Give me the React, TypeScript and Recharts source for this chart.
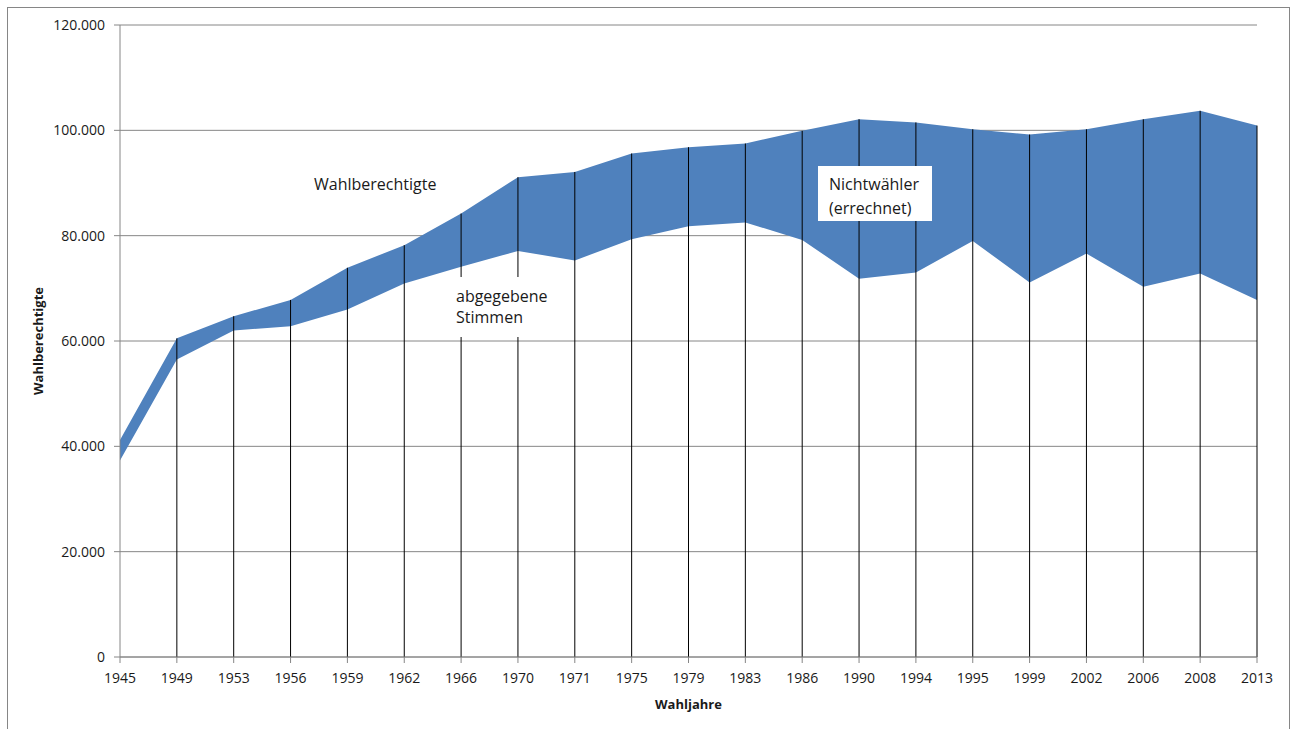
import React from "react";
import {
  ComposedChart,
  Area,
  XAxis,
  YAxis,
  CartesianGrid,
  ReferenceLine,
  Label,
} from "recharts";

const years = [
  "1945", "1949", "1953", "1956", "1959", "1962", "1966", "1970", "1971", "1975", "1979",
  "1983", "1986", "1990", "1994", "1995", "1999", "2002", "2006", "2008", "2013",
];

// Wahlberechtigte (upper edge of the band)
const wahlberechtigte = [
  41200, 60500, 64700, 67800, 73900, 78200, 84200, 91100, 92100, 95600, 96800,
  97500, 99900, 102100, 101500, 100200, 99200, 100200, 102100, 103700, 100900,
];

// abgegebene Stimmen (lower edge of the band)
const abgegebeneStimmen = [
  37300, 56500, 62000, 62800, 66000, 70900, 74100, 77100, 75300, 79300, 81800,
  82500, 79200, 71800, 73000, 79000, 71100, 76600, 70300, 72800, 67800,
];

const yTicks = [0, 20000, 40000, 60000, 80000, 100000, 120000];

const data = years.map((year, i) => ({
  year,
  band: [abgegebeneStimmen[i], wahlberechtigte[i]],
}));

const fmt = (v: number) =>
  v === 0 ? "0" : `${Math.floor(v / 1000)}.${String(v % 1000).padStart(3, "0")}`;

const font = "'Open Sans', 'Noto Sans', sans-serif";
const gray = "#868686";
const ink = "#1a1a1a";

export default function App() {
  return (
    <div
      style={{
        position: "absolute",
        left: 7,
        top: 7,
        width: 1281,
        height: 730,
        border: `1px solid ${gray}`,
        background: "#fff",
        fontFamily: font,
      }}
    >
      <ComposedChart
        width={1281}
        height={729}
        data={data}
        margin={{ top: 17, right: 32, left: 32, bottom: 40 }}
      >
        <CartesianGrid vertical={false} stroke={gray} strokeWidth={1} />
        <XAxis
          dataKey="year"
          padding={{ left: 0, right: 0 }}
          stroke={gray}
          tickSize={6}
          tickMargin={10}
          height={40}
          interval={0}
          tick={{ fontSize: 14, fill: ink, fontFamily: font }}
        >
          <Label
            value="Wahljahre"
            position="insideBottom"
            offset={-12}
            style={{ fontSize: 13, fontWeight: "bold", fill: ink, fontFamily: font }}
          />
        </XAxis>
        <YAxis
          domain={[0, 120000]}
          ticks={yTicks}
          width={80}
          stroke={gray}
          tickSize={6}
          tickMargin={9}
          tickFormatter={fmt}
          tick={{ fontSize: 14, fill: ink, fontFamily: font }}
        >
          <Label
            value="Wahlberechtigte"
            angle={-90}
            position="insideLeft"
            offset={-2}
            style={{
              fontSize: 13,
              fontWeight: "bold",
              fill: ink,
              fontFamily: font,
              textAnchor: "middle",
            }}
          />
        </YAxis>
        <Area
          type="linear"
          dataKey="band"
          stroke="none"
          fill="#4F81BD"
          fillOpacity={1}
          isAnimationActive={false}
        />
        {years.slice(1).map((year, i) => (
          <ReferenceLine
            key={year}
            segment={[
              { x: year, y: 0 },
              { x: year, y: wahlberechtigte[i + 1] },
            ]}
            stroke="#000"
            strokeWidth={1}
          />
        ))}
      </ComposedChart>

      <div
        style={{
          position: "absolute",
          left: 306,
          top: 166,
          fontSize: 16,
          color: ink,
          lineHeight: "20px",
        }}
      >
        Wahlberechtigte
      </div>
      <div
        style={{
          position: "absolute",
          left: 444,
          top: 269,
          height: 60,
          boxSizing: "border-box",
          padding: "9px 6px 0 4px",
          background: "#fff",
          fontSize: 16,
          color: ink,
          lineHeight: "21px",
        }}
      >
        abgegebene
        <br />
        Stimmen
      </div>
      <div
        style={{
          position: "absolute",
          left: 810,
          top: 158,
          width: 114,
          height: 55,
          boxSizing: "border-box",
          padding: "6px 0 0 11px",
          background: "#fff",
          fontSize: 16,
          color: ink,
          lineHeight: "24px",
        }}
      >
        Nichtwähler
        <br />
        (errechnet)
      </div>
    </div>
  );
}
